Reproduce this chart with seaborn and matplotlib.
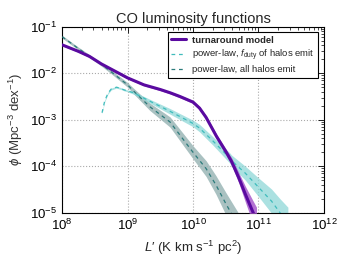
import numpy as np
import pandas as pd
import matplotlib
matplotlib.use("Agg")
import matplotlib.pyplot as plt
from matplotlib.lines import Line2D
import seaborn as sns

# ---- data (log10 values) ----
turn_logL = [8.0, 8.25, 8.42, 8.6, 8.8, 9.0, 9.25, 9.5, 9.65, 9.8, 10.0, 10.1, 10.2, 10.36, 10.5, 10.59, 10.7, 10.8, 10.92, 10.97]
turn_logphi = [-1.39, -1.53, -1.64, -1.80, -1.95, -2.10, -2.25, -2.35, -2.42, -2.50, -2.62, -2.75, -2.95, -3.36, -3.68, -3.90, -4.25, -4.60, -5.00, -5.15]
turn_band = [0.02, 0.02, 0.02, 0.02, 0.02, 0.02, 0.02, 0.025, 0.025, 0.03, 0.03, 0.035, 0.04, 0.05, 0.06, 0.08, 0.11, 0.17, 0.25, 0.27]

duty_logL = [8.61, 8.65, 8.7, 8.75, 8.83, 8.9, 8.95, 9.0, 9.09, 9.34, 9.65, 10.0, 10.1, 10.3, 10.56, 10.59, 10.8, 11.0, 11.2, 11.33, 11.45]
duty_logphi = [-2.85, -2.6, -2.43, -2.34, -2.30, -2.33, -2.36, -2.38, -2.42, -2.60, -2.82, -3.08, -3.18, -3.45, -3.82, -3.88, -4.15, -4.45, -4.75, -5.00, -5.20]
duty_band = [0.02, 0.02, 0.02, 0.02, 0.02, 0.02, 0.02, 0.02, 0.03, 0.04, 0.06, 0.07, 0.08, 0.09, 0.11, 0.12, 0.15, 0.2, 0.26, 0.3, 0.32]

all_logL = [8.0, 8.25, 8.58, 8.75, 9.0, 9.09, 9.34, 9.65, 10.0, 10.2, 10.35, 10.5, 10.6, 10.7]
all_logphi = [-1.215, -1.47, -1.79, -1.97, -2.25, -2.38, -2.72, -3.05, -3.70, -4.05, -4.40, -4.80, -5.05, -5.3]
all_band = [0.03, 0.03, 0.035, 0.04, 0.05, 0.06, 0.08, 0.11, 0.14, 0.17, 0.2, 0.24, 0.26, 0.28]

xticks = [1e8, 1e9, 1e10, 1e11, 1e12]
yticks = [1e-5, 1e-4, 1e-3, 1e-2, 1e-1]

c_turn, c_turn_band = "#5a0aa0", "#a24fc8"
c_duty, c_duty_band = "#3fbcbc", "#8fd8d8"
c_all, c_all_band = "#2b7b7b", "#9bb7b7"

sns.set_style("white")
plt.rcParams['font.family'] = ['Liberation Sans', 'DejaVu Sans']
plt.rcParams['mathtext.fontset'] = 'custom'
plt.rcParams['mathtext.rm'] = 'Liberation Sans'
plt.rcParams['mathtext.it'] = 'Liberation Sans:italic'
plt.rcParams['mathtext.bf'] = 'Liberation Sans:bold'

fig = plt.figure(figsize=(3.49, 2.62), dpi=100)
ax = fig.add_axes([0.178, 0.188, 0.75, 0.71])
ax.set_xscale('log')
ax.set_yscale('log')

def series(logL, logphi, band, name):
    L = 10 ** np.asarray(logL)
    lp = np.asarray(logphi)
    b = np.asarray(band)
    return pd.DataFrame({"L": L, "phi": 10 ** lp, "lo": 10 ** (lp - b), "hi": 10 ** (lp + b), "model": name})

lab_turn = "turnaround model"
lab_duty = r"power-law, $f_{\rm duty}$ of halos emit"
lab_all = "power-law, all halos emit"

d_all = series(all_logL, all_logphi, all_band, lab_all)
d_duty = series(duty_logL, duty_logphi, duty_band, lab_duty)
d_turn = series(turn_logL, turn_logphi, turn_band, lab_turn)

ax.fill_between(d_all.L, d_all.lo, d_all.hi, color=c_all_band, alpha=0.85, lw=0, zorder=2)
ax.fill_between(d_duty.L, d_duty.lo, d_duty.hi, color=c_duty_band, alpha=0.75, lw=0, zorder=2)
ax.fill_between(d_turn.L, d_turn.lo, d_turn.hi, color=c_turn_band, alpha=0.8, lw=0, zorder=3)

dash = (0, (3, 3))
sns.lineplot(data=d_all, x="L", y="phi", ax=ax, color=c_all, lw=0.9,
             linestyle=dash, zorder=4, sort=False, legend=False)
sns.lineplot(data=d_duty, x="L", y="phi", ax=ax, color=c_duty, lw=0.9,
             linestyle=dash, zorder=4, sort=False, legend=False)
sns.lineplot(data=d_turn, x="L", y="phi", ax=ax, color=c_turn, lw=2.2,
             zorder=5, sort=False, legend=False)

ax.set_xlim(1e8, 1e12)
ax.set_ylim(1e-5, 1e-1)
ax.set_xticks(xticks)
ax.set_yticks(yticks)
ax.tick_params(which='both', direction='in', top=True, right=True, labelsize=9.5, colors='black')
ax.tick_params(which='major', length=4, width=0.6)
ax.tick_params(which='minor', length=2, width=0.5)
ax.grid(True, which='major', linestyle=':', color='#aaaaaa', lw=0.8)
for s in ax.spines.values():
    s.set_color('black')
    s.set_linewidth(0.8)

ax.set_xlabel(r"$L$′ (K km s$^{-1}$ pc$^2$)", fontsize=9.5, labelpad=4)
ax.set_ylabel(r"$\phi$ (Mpc$^{-3}$ dex$^{-1}$)", fontsize=9.5, color='#333333')
ax.set_title("CO luminosity functions", fontsize=10.5, pad=3)

handles = [
    Line2D([], [], color=c_turn, lw=2.2),
    Line2D([], [], color=c_duty, lw=0.9, linestyle=dash),
    Line2D([], [], color=c_all, lw=0.9, linestyle=dash),
]
leg = ax.legend(handles, [lab_turn, lab_duty, lab_all], loc='upper right', fontsize=6.8,
                frameon=True, fancybox=False, edgecolor='black', framealpha=1,
                handlelength=1.6, handletextpad=0.6, borderpad=0.35, labelspacing=0.3,
                bbox_to_anchor=(0.995, 0.995))
leg.get_frame().set_linewidth(0.8)
leg.get_texts()[0].set_fontweight('bold')

fig.savefig("out.png", dpi=100)
